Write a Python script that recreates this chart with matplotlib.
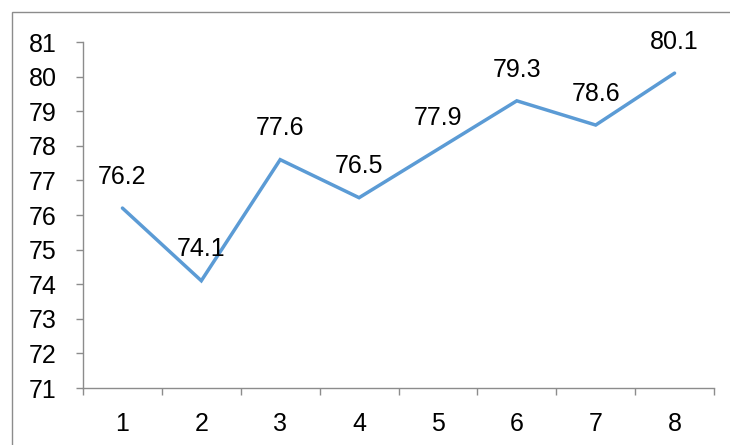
import matplotlib
matplotlib.use("Agg")
import matplotlib.pyplot as plt
from matplotlib.patches import Rectangle

categories = ["1", "2", "3", "4", "5", "6", "7", "8"]
values = [76.2, 74.1, 77.6, 76.5, 77.9, 79.3, 78.6, 80.1]
yticks = list(range(71, 82))

plt.rcParams['font.family'] = ['Liberation Sans', 'DejaVu Sans']

W, H = 730, 445
fig = plt.figure(figsize=(W / 100, H / 100), dpi=100)
ax = fig.add_axes([83 / W, 1 - 388 / H, (714 - 83) / W, (388 - 42) / H])

# outer frame
fig.patches.append(Rectangle((12 / W, -0.05), 1.0, 1 - 12 / H + 0.05,
                             transform=fig.transFigure, fill=False,
                             edgecolor='#8c8c8c', linewidth=1.0))

FS = 18
x = list(range(len(categories)))
ax.plot(x, values, color='#5B9BD5', linewidth=2.5, solid_joinstyle='miter',
        solid_capstyle='round')
for xi, v in zip(x, values):
    ax.annotate(f"{v}", (xi, v), xytext=(0, 22.5), textcoords='offset points',
                ha='center', va='center', fontsize=FS, color='black')

ax.set_xlim(-0.5, len(categories) - 0.5)
ax.set_ylim(71, 81)
ax.set_yticks(yticks)
ax.set_xticks(x)
ax.set_xticklabels(categories)
ax.set_xticks([i - 0.5 for i in range(len(categories) + 1)], minor=True)
ax.tick_params(axis='x', which='major', length=0, pad=17, labelsize=FS)
ax.tick_params(axis='x', which='minor', length=5, color='#8c8c8c', width=1)
ax.tick_params(axis='y', length=5, color='#8c8c8c', width=1, pad=14, labelsize=FS)
for s in ['top', 'right']:
    ax.spines[s].set_visible(False)
for s in ['left', 'bottom']:
    ax.spines[s].set_color('#8c8c8c')
    ax.spines[s].set_linewidth(1)

fig.savefig("out.png", dpi=100)
